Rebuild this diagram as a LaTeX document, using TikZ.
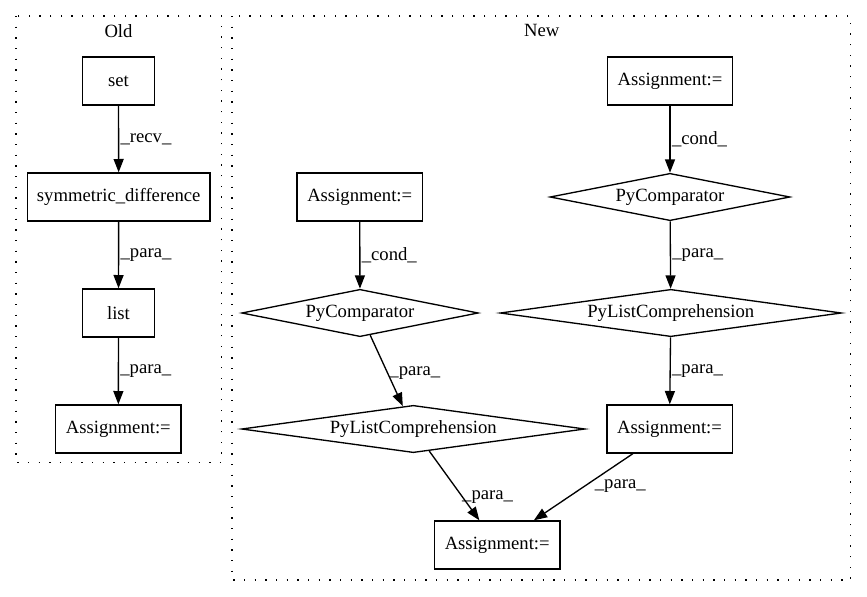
\documentclass[tikz,border=0pt]{standalone}
\usepackage{fontspec}
\setmainfont{Liberation Serif}
\usetikzlibrary{shapes.geometric,arrows.meta}

\begin{document}
\begin{tikzpicture}[x=0.75pt,y=-0.75pt,
  txt/.style={font=\fontsize{14}{16}\selectfont},
  box/.style={txt, draw, line width=1pt, minimum height=36pt, inner sep=0pt},
  dia/.style={txt, draw, diamond, line width=1pt, minimum height=35.5pt, inner sep=0pt},
  edge/.style={line width=1pt, -{Triangle[length=10pt,width=7.5pt]}},
  lbl/.style={txt, inner sep=1pt},
  cluster/.style={draw, line width=1pt, dash pattern=on 1pt off 7pt}
]
\useasboundingbox (0,0) rectangle (867,596);

% clusters
\draw[cluster] (16,16) rectangle (221.7,462.7);
\node[txt] (oldlbl) at (118.5,31) {Old};
\draw[cluster] (232,16) rectangle (850.7,580);
\node[txt] (newlbl) at (541.7,30) {New};

% old version
\node[box, minimum width=53.7pt] (set) at (118.5,81) {set};
\node[box, minimum width=137pt] (sym) at (118.7,197) {symmetric\_difference};
\node[box, minimum width=53.7pt] (list) at (118.5,313) {list};
\node[box, minimum width=94pt] (oldA) at (118.3,429) {Assignment:=};

\draw[edge] (set) -- node[lbl, anchor=west] {\_recv\_} (sym);
\draw[edge] (sym) -- node[lbl, anchor=west] {\_para\_} (list);
\draw[edge] (list) -- node[lbl, anchor=west] {\_para\_} (oldA);

% new version, right branch
\node[box, minimum width=94pt] (aR) at (670,81) {Assignment:=};
\node[dia, minimum width=180pt, shape aspect=5.07] (pcR) at (670,197) {PyComparator};
\node[dia, minimum width=256pt, shape aspect=7.21] (plcR) at (670.8,313) {PyListComprehension};
\node[box, minimum width=94pt] (aR2) at (669.5,429) {Assignment:=};

% new version, left branch
\node[box, minimum width=94pt] (aL) at (359.7,197) {Assignment:=};
\node[dia, minimum width=177.5pt, shape aspect=5.0] (pcL) at (360,313) {PyComparator};
\node[dia, minimum width=257.5pt, shape aspect=7.25] (plcL) at (413.3,429) {PyListComprehension};

\node[box, minimum width=94pt] (aB) at (497.2,545) {Assignment:=};

\draw[edge] (aR) -- node[lbl, anchor=west] {\_cond\_} (pcR);
\draw[edge] (pcR) -- node[lbl, anchor=west] {\_para\_} (plcR);
\draw[edge] (plcR) -- node[lbl, anchor=west] {\_para\_} (aR2);

\draw[edge] (aL) -- node[lbl, anchor=west] {\_cond\_} (pcL);
\draw[edge] (pcL) -- node[lbl, pos=0.53, anchor=west] {\_para\_} (plcL);
\draw[edge] (plcL) -- node[lbl, pos=0.67, anchor=west, xshift=-2pt] {\_para\_} (aB);
\draw[edge] (aR2) -- node[lbl, pos=0.485, anchor=west, xshift=6pt] {\_para\_} (aB);
\end{tikzpicture}
\end{document}
